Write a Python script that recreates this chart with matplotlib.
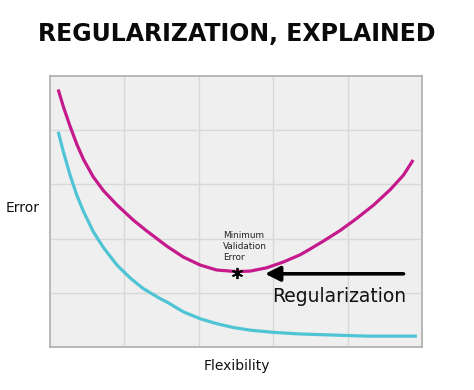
'''Regularization explained: training vs validation error against flexibility.'''

import matplotlib.pyplot as plt

# values (axes run 0..5 in both directions)
flex_val = [0.11, 0.18, 0.27, 0.36, 0.45, 0.58, 0.72, 0.9, 1.01, 1.12, 1.3,
            1.57, 1.79, 2.02, 2.24, 2.51, 2.69, 2.91, 3.14, 3.36, 3.45, 3.67,
            3.9, 4.12, 4.35, 4.57, 4.75, 4.88]
err_val = [4.75, 4.43, 4.07, 3.74, 3.46, 3.14, 2.88, 2.62, 2.48, 2.34, 2.14,
           1.86, 1.66, 1.51, 1.42, 1.39, 1.40, 1.46, 1.57, 1.70, 1.77, 1.95,
           2.15, 2.37, 2.62, 2.9, 3.17, 3.45]

flex_train = [0.11, 0.18, 0.27, 0.36, 0.45, 0.58, 0.72, 0.9, 1.08, 1.25, 1.47,
              1.57, 1.79, 2.02, 2.24, 2.46, 2.69, 3.0, 3.36, 3.81, 4.26, 4.93]
err_train = [3.97, 3.6, 3.17, 2.8, 2.5, 2.13, 1.83, 1.51, 1.27, 1.08, 0.9,
             0.83, 0.65, 0.52, 0.43, 0.36, 0.31, 0.27, 0.24, 0.22, 0.2, 0.2]

min_flex, min_err = 2.51, 1.37
arrow_from = (4.75, 1.35)
arrow_to = (2.89, 1.35)

fig = plt.figure(figsize=(4.74, 3.90), dpi=100)
ax = fig.add_axes([0.1055, 0.1103, 0.785, 0.695])
ax.set_facecolor('#efefef')

ax.plot(flex_val, err_val, color='#c41a8b', lw=2.3, solid_capstyle='butt',
        solid_joinstyle='round', zorder=3)
ax.plot(flex_train, err_train, color='#4fc4d4', lw=2.3, solid_capstyle='butt',
        solid_joinstyle='round', zorder=3)
ax.plot(min_flex, min_err, marker=(6, 2, 0), ms=8, mew=1.3, color='black', zorder=4)

ax.text(2.33, 1.57, 'Minimum\nValidation\nError', fontsize=6.4, color='#222222',
        ha='left', va='bottom', linespacing=1.3)

ax.annotate('', xy=arrow_to, xytext=arrow_from,
            arrowprops=dict(arrowstyle='-|>,head_length=0.9,head_width=0.45',
                            lw=2.6, color='black', shrinkA=0, shrinkB=0))
ax.text(3.89, 0.94, 'Regularization', fontsize=13.5, ha='center', va='center', color='#111111')

ax.set_xlim(0, 5)
ax.set_ylim(0, 5)
ax.set_xticks(range(1, 5))
ax.set_yticks(range(1, 5))
ax.tick_params(length=0, labelleft=False, labelbottom=False)
ax.grid(True, color='#d8d8d8', lw=1)
for s in ax.spines.values():
    s.set_color('#b3b3b3')
    s.set_linewidth(1.3)

fig.text(0.5, 0.912, 'REGULARIZATION, EXPLAINED', fontsize=17, fontweight='bold',
         ha='center', va='center', color='#0a0a0a')
fig.text(0.011, 0.466, 'Error', fontsize=10, ha='left', va='center', color='#111111')
fig.text(0.5, 0.062, 'Flexibility', fontsize=10, ha='center', va='center', color='#111111')

fig.savefig('out.png', dpi=100)
